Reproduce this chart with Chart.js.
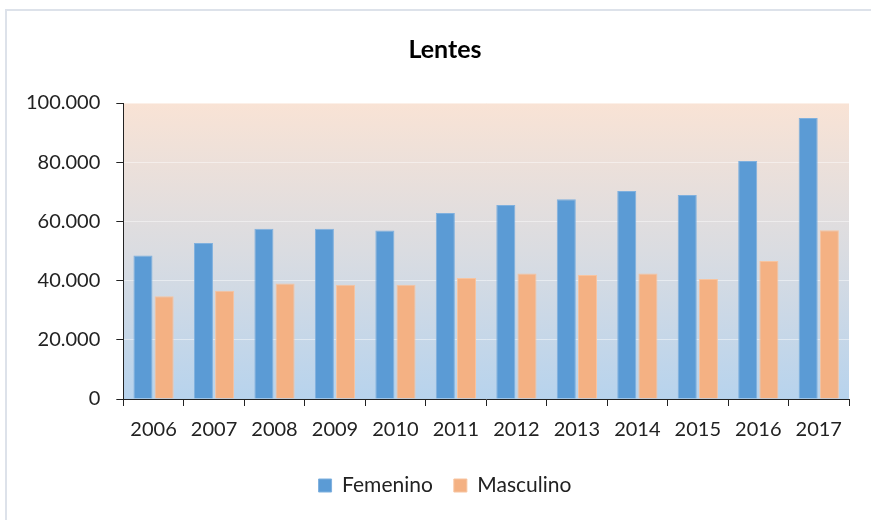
<!DOCTYPE html>
<html>
<head>
<meta charset="utf-8">
<script src="https://cdn.jsdelivr.net/npm/chart.js@4/dist/chart.umd.min.js"></script>
<style>
  html, body { margin: 0; padding: 0; background: #fff; overflow: hidden; }
  #wrap { width: 880px; height: 520px; }
</style>
</head>
<body>
<div id="wrap"><canvas id="lentes"></canvas></div>
<script>
let years = ['2006','2007','2008','2009','2010','2011','2012','2013','2014','2015','2016','2017'];
let femenino = [48500,52700,57500,57500,56900,62800,65500,67500,70300,68900,80400,94900];
let masculino = [34700,36600,39000,38600,38600,40900,42400,41900,42400,40500,46600,57000];
let yMax = 100000;
let yStep = 20000;

let fontFam = "Lato, 'Liberation Sans', sans-serif";

// gradient behind the bars, like the excel plot area
let plotBg = {
  id: 'plotBg',
  beforeDraw(chart) {
    let ctx = chart.ctx;
    let a = chart.chartArea;
    let g = ctx.createLinearGradient(0, a.top, 0, a.bottom);
    g.addColorStop(0, '#f9e3d5');
    g.addColorStop(0.5, '#dadce1');
    g.addColorStop(1, '#b7d3ed');
    ctx.save();
    ctx.fillStyle = g;
    ctx.fillRect(a.left, a.top, a.right - a.left, a.bottom - a.top);
    ctx.restore();
  }
};

// light frame of the chart object
let frame = {
  id: 'frame',
  beforeDraw(chart) {
    let ctx = chart.ctx;
    ctx.save();
    ctx.strokeStyle = '#dde2ea';
    ctx.lineWidth = 2;
    ctx.beginPath();
    ctx.moveTo(6, chart.height);
    ctx.lineTo(6, 10);
    ctx.lineTo(chart.width, 10);
    ctx.stroke();
    ctx.restore();
  }
};

let chart = new Chart(document.getElementById('lentes'), {
  type: 'bar',
  data: {
    labels: years,
    datasets: [
      { label: 'Femenino', data: femenino, backgroundColor: '#5b9bd5', borderColor: '#7fb0de', borderWidth: 1 },
      { label: 'Masculino', data: masculino, backgroundColor: '#f4b183', borderColor: '#f7c4a0', borderWidth: 1 }
    ]
  },
  plugins: [frame, plotBg],
  options: {
    responsive: true,
    maintainAspectRatio: false,
    animation: false,
    layout: { padding: { left: 10, right: 0, top: 0, bottom: 14 } },
    datasets: { bar: { categoryPercentage: 0.7, barPercentage: 0.9 } },
    plugins: {
      title: {
        display: true,
        text: 'Lentes',
        color: '#000',
        font: { family: fontFam, size: 25, weight: 'bold' },
        padding: { top: 35, bottom: 38 }
      },
      legend: {
        position: 'bottom',
        labels: {
          color: '#222',
          font: { family: fontFam, size: 21 },
          boxWidth: 13,
          boxHeight: 13,
          padding: 21
        }
      },
      tooltip: { enabled: false }
    },
    scales: {
      x: {
        grid: { color: 'transparent', tickColor: '#222', tickLength: 7, offset: true },
        border: { color: '#222', width: 1 },
        ticks: { color: '#222', font: { family: fontFam, size: 20 }, padding: 12, maxRotation: 0 }
      },
      y: {
        min: 0,
        max: yMax,
        grid: { color: 'rgba(255,255,255,0.45)', tickColor: '#222', tickLength: 7 },
        border: { color: '#222', width: 1 },
        ticks: {
          stepSize: yStep,
          color: '#222',
          font: { family: fontFam, size: 20 },
          padding: 16,
          callback: v => v.toLocaleString('de-DE')
        }
      },
      // empty strip on the right so the plot ends where the excel one does
      side: {
        position: 'right',
        grid: { display: false },
        border: { display: false },
        ticks: { display: false },
        afterFit: s => { s.width = 31; }
      }
    }
  }
});
</script>
</body>
</html>
